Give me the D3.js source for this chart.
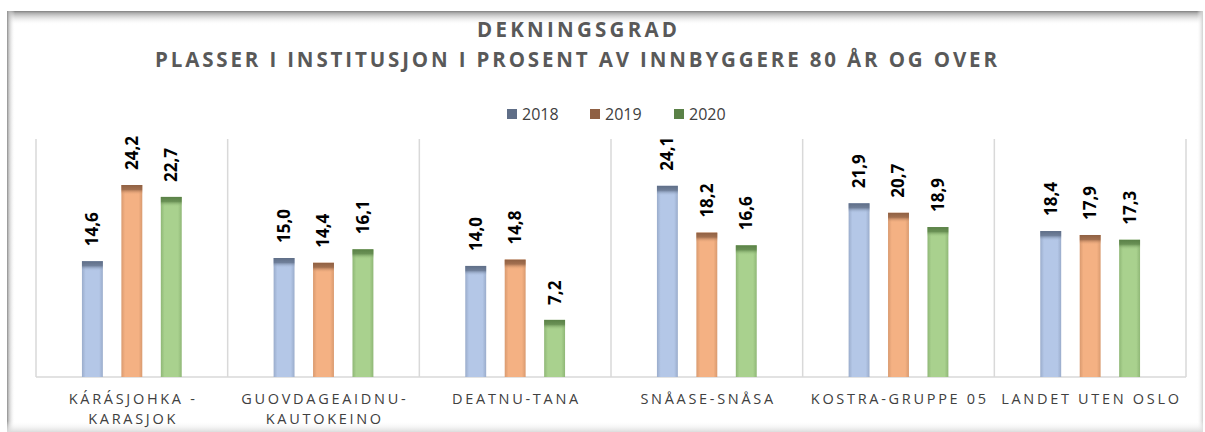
<!DOCTYPE html>
<html>
<head>
<meta charset="utf-8">
<script src="https://cdn.jsdelivr.net/npm/d3@7"></script>
<style>
  body { margin: 0; background: #fff; }
  svg { display: block; }
  .title { font-family: "Open Sans", sans-serif; font-weight: 700; fill: #595959; }
  .legend text { font-family: "Open Sans", sans-serif; font-size: 16px; fill: #404040; }
  .cat { font-family: "Open Sans", sans-serif; font-size: 14.5px; fill: #404040; letter-spacing: 2.7px; }
  .val { font-family: "Open Sans", sans-serif; font-size: 17px; font-weight: 700; fill: #000; }
</style>
</head>
<body>
<div id="chart"></div>
<script>
// Kategorier (linjeskift med \n)
const categories = ["KÁRÁSJOHKA -\nKARASJOK", "GUOVDAGEAIDNU-\nKAUTOKEINO", "DEATNU-TANA", "SNÅASE-SNÅSA", "KOSTRA-GRUPPE 05", "LANDET UTEN OSLO"];
const years = ["2018", "2019", "2020"];
const values2018 = [14.6, 15.0, 14.0, 24.1, 21.9, 18.4];
const values2019 = [24.2, 14.4, 14.8, 18.2, 20.7, 17.9];
const values2020 = [22.7, 16.1, 7.2, 16.6, 18.9, 17.3];
const titleLines = ["DEKNINGSGRAD", "PLASSER I INSTITUSJON I PROSENT AV INNBYGGERE 80 ÅR OG OVER"];

const series = [values2018, values2019, values2020];

// farger: kropp, kant, topp
const colors = {
  "2018": { body: "#b4c7e7", edge: "#9aaccb", cap: "#5f6e87" },
  "2019": { body: "#f4b183", edge: "#d99a6f", cap: "#8f6043" },
  "2020": { body: "#a9d18e", edge: "#8fb776", cap: "#5a8147" }
};

const W = 1205, H = 432;
const plot = { left: 36, right: 1186, top: 139, bottom: 377 };

const svg = d3.select("#chart").append("svg")
  .attr("width", W)
  .attr("height", H);

const defs = svg.append("defs");

// Ramme med skygge
function shade(id, x1, y1, x2, y2, stops) {
  const g = defs.append("linearGradient").attr("id", id)
    .attr("x1", x1).attr("y1", y1).attr("x2", x2).attr("y2", y2);
  stops.forEach(s => g.append("stop").attr("offset", s[0]).attr("stop-color", s[1]).attr("stop-opacity", s[2]));
}
shade("sh-top", 0, 0, 0, 1, [[0, "#7f7f7f", 1], [0.15, "#a6a6a6", 0.9], [1, "#ffffff", 0]]);
shade("sh-left", 0, 0, 1, 0, [[0, "#8c8c8c", 1], [0.25, "#bdbdbd", 0.8], [1, "#ffffff", 0]]);
shade("sh-right", 0, 0, 1, 0, [[0, "#ffffff", 0], [1, "#d0d0d0", 1]]);
shade("sh-bottom", 0, 0, 0, 1, [[0, "#ffffff", 0], [1, "#dcdcdc", 1]]);

svg.append("rect").attr("x", 7).attr("y", 11).attr("width", 1196).attr("height", 421).attr("fill", "#fff");
svg.append("rect").attr("x", 7).attr("y", 11).attr("width", 1196).attr("height", 14).attr("fill", "url(#sh-top)");
svg.append("rect").attr("x", 7).attr("y", 11).attr("width", 8).attr("height", 421).attr("fill", "url(#sh-left)");
svg.append("rect").attr("x", 1197).attr("y", 11).attr("width", 6).attr("height", 421).attr("fill", "url(#sh-right)");
svg.append("rect").attr("x", 7).attr("y", 421).attr("width", 1196).attr("height", 11).attr("fill", "url(#sh-bottom)");

// Gradienter for stolpene
years.forEach(yr => {
  const c = colors[yr];
  shade("body-" + yr, 0, 0, 1, 0, [[0, c.edge, 1], [0.18, c.body, 1], [0.82, c.body, 1], [1, c.edge, 1]]);
  shade("cap-" + yr, 0, 0, 0, 1, [[0, c.cap, 1], [0.45, c.cap, 0.8], [1, c.body, 0]]);
});

// Skalaer
const x0 = d3.scaleBand()
  .domain(categories)
  .range([plot.left, plot.right])
  .padding(0);

const x1 = d3.scaleBand()
  .domain(years)
  .range([0, x0.bandwidth()])
  .paddingInner(0.47)
  .paddingOuter(1.165);

const y = d3.scaleLinear()
  .domain([0, 30])
  .range([plot.bottom, plot.top]);

// Tittel
const title = svg.append("g").attr("class", "title");
title.append("text")
  .attr("x", 577).attr("y", 37)
  .attr("text-anchor", "middle")
  .attr("font-size", 20.5)
  .attr("textLength", 200).attr("lengthAdjust", "spacing")
  .text(titleLines[0]);
title.append("text")
  .attr("x", 576).attr("y", 67)
  .attr("text-anchor", "middle")
  .attr("font-size", 20.5)
  .attr("textLength", 842).attr("lengthAdjust", "spacing")
  .text(titleLines[1]);

// Forklaring
const legendX = [507, 590, 674];
const legend = svg.append("g").attr("class", "legend")
  .selectAll("g")
  .data(years)
  .join("g")
  .attr("transform", (d, i) => `translate(${legendX[i]},109)`);
legend.append("rect")
  .attr("width", 10).attr("height", 10)
  .attr("fill", d => colors[d].cap);
legend.append("text")
  .attr("x", 15).attr("y", 11)
  .text(d => d);

// Rutenett (kategorigrenser)
const grid = svg.append("g").attr("stroke", "#d9d9d9").attr("stroke-width", 1.5);
grid.selectAll("line.v")
  .data(categories.map(c => x0(c)).concat([plot.right]))
  .join("line")
  .attr("class", "v")
  .attr("x1", d => d).attr("x2", d => d)
  .attr("y1", plot.top).attr("y2", plot.bottom);
grid.append("line")
  .attr("x1", plot.left).attr("x2", plot.right)
  .attr("y1", plot.bottom).attr("y2", plot.bottom);

// Stolper
const groups = svg.append("g")
  .selectAll("g")
  .data(categories.map((c, i) => ({ cat: c, data: years.map((yr, j) => ({ year: yr, value: series[j][i] })) })))
  .join("g")
  .attr("transform", d => `translate(${x0(d.cat)},0)`);

const bars = groups.selectAll("g")
  .data(d => d.data)
  .join("g");

bars.append("rect")
  .attr("x", d => x1(d.year))
  .attr("y", d => y(d.value))
  .attr("width", x1.bandwidth())
  .attr("height", d => y(0) - y(d.value))
  .attr("fill", d => `url(#body-${d.year})`);

bars.append("rect")
  .attr("x", d => x1(d.year))
  .attr("y", d => y(d.value))
  .attr("width", x1.bandwidth())
  .attr("height", d => Math.min(10, y(0) - y(d.value)))
  .attr("fill", d => `url(#cap-${d.year})`);

// Verdietiketter (rotert)
bars.append("text")
  .attr("class", "val")
  .attr("transform", d => `translate(${x1(d.year) + x1.bandwidth() / 2},${y(d.value) - 15}) rotate(-90)`)
  .attr("dy", "0.35em")
  .text(d => d3.format(".1f")(d.value).replace(".", ","));

// Kategorietiketter
const catLabels = svg.append("g")
  .selectAll("text")
  .data(categories)
  .join("text")
  .attr("class", "cat")
  .attr("text-anchor", "middle")
  .attr("transform", d => `translate(${x0(d) + x0.bandwidth() / 2 + 1.3},404)`);
catLabels.selectAll("tspan")
  .data(d => d.split("\n"))
  .join("tspan")
  .attr("x", 0)
  .attr("y", (d, i) => i * 20)
  .text(d => d);
</script>
</body>
</html>
